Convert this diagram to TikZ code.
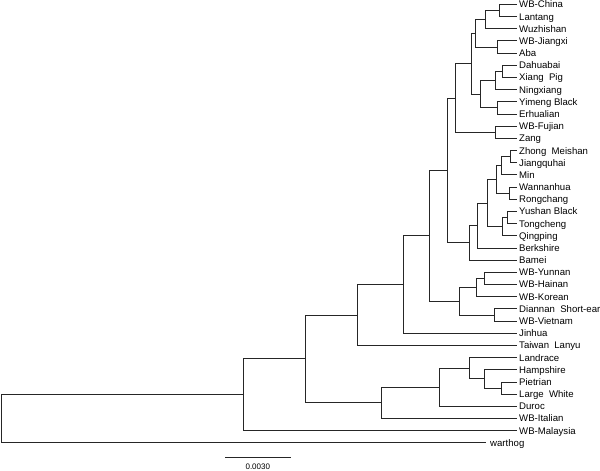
\documentclass[tikz,border=0pt]{standalone}
\usepackage{fontspec}
\setmainfont{Liberation Sans}
\begin{document}
\begin{tikzpicture}[x=1pt,y=-1pt,
  branch/.style={draw=black!85,line width=0.8pt},
  leaf/.style={anchor=west,inner xsep=2pt,inner ysep=0pt,font=\fontsize{9.6}{11}\selectfont,text height=7.4pt,text depth=0.4pt},
  scalelbl/.style={inner sep=0pt,font=\fontsize{8}{10}\selectfont}]
\useasboundingbox (0,0) rectangle (600,471);
% leaves
\node[leaf] (l0) at (517,4.3) {WB-China};
\node[leaf] (l1) at (517,16.5) {Lantang};
\node[leaf] (l2) at (517,28.7) {Wuzhishan};
\node[leaf] (l3) at (517,40.8) {WB-Jiangxi};
\node[leaf] (l4) at (517,53.0) {Aba};
\node[leaf] (l5) at (517,65.2) {Dahuabai};
\node[leaf] (l6) at (517,77.4) {Xiang~ Pig};
\node[leaf] (l7) at (517,89.6) {Ningxiang};
\node[leaf] (l8) at (517,101.7) {Yimeng Black};
\node[leaf] (l9) at (517,113.9) {Erhualian};
\node[leaf] (l10) at (517,126.1) {WB-Fujian};
\node[leaf] (l11) at (517,138.3) {Zang};
\node[leaf] (l12) at (517,150.5) {Zhong~ Meishan};
\node[leaf] (l13) at (517,162.6) {Jiangquhai};
\node[leaf] (l14) at (517,174.8) {Min};
\node[leaf] (l15) at (517,187.0) {Wannanhua};
\node[leaf] (l16) at (517,199.2) {Rongchang};
\node[leaf] (l17) at (517,211.4) {Yushan Black};
\node[leaf] (l18) at (517,223.5) {Tongcheng};
\node[leaf] (l19) at (517,235.7) {Qingping};
\node[leaf] (l20) at (517,247.9) {Berkshire};
\node[leaf] (l21) at (517,260.1) {Bamei};
\node[leaf] (l22) at (517,272.3) {WB-Yunnan};
\node[leaf] (l23) at (517,284.4) {WB-Hainan};
\node[leaf] (l24) at (517,296.6) {WB-Korean};
\node[leaf] (l25) at (517,308.8) {Diannan~ Short-ear};
\node[leaf] (l26) at (517,321.0) {WB-Vietnam};
\node[leaf] (l27) at (517,333.2) {Jinhua};
\node[leaf] (l28) at (517,345.3) {Taiwan~ Lanyu};
\node[leaf] (l29) at (517,357.5) {Landrace};
\node[leaf] (l30) at (517,369.7) {Hampshire};
\node[leaf] (l31) at (517,381.9) {Pietrian};
\node[leaf] (l32) at (517,394.1) {Large~ White};
\node[leaf] (l33) at (517,406.2) {Duroc};
\node[leaf] (l34) at (517,418.4) {WB-Italian};
\node[leaf] (l35) at (517,430.6) {WB-Malaysia};
\node[leaf,inner xsep=4pt] (l36) at (486,442.8) {warthog};
% internal nodes
\coordinate (n1) at (499,10.4);
\coordinate (n2) at (485.7,19.55);
\coordinate (n3) at (497.7,46.9);
\coordinate (n4) at (475.7,33.2);
\coordinate (n5) at (502.3,71.3);
\coordinate (n6) at (495.7,80.45);
\coordinate (n7) at (497.7,107.8);
\coordinate (n8) at (480,94.1);
\coordinate (n9) at (471,63.65);
\coordinate (n10) at (495.7,132.2);
\coordinate (n11) at (455,97.9);
\coordinate (n12) at (510.7,156.55);
\coordinate (n13) at (501,165.7);
\coordinate (n14) at (509.3,193.1);
\coordinate (n15) at (496,179.4);
\coordinate (n16) at (507.3,217.45);
\coordinate (n17) at (502.7,226.6);
\coordinate (n18) at (487.7,203);
\coordinate (n19) at (477.7,225.45);
\coordinate (n20) at (469.3,242.8);
\coordinate (n21) at (447.7,170.35);
\coordinate (n22) at (484,278.35);
\coordinate (n23) at (476.7,287.5);
\coordinate (n24) at (494.3,314.9);
\coordinate (n25) at (459,301.2);
\coordinate (n26) at (429.3,235.8);
\coordinate (n27) at (403.3,284.5);
\coordinate (n28) at (357.3,314.9);
\coordinate (n29) at (501,388);
\coordinate (n30) at (484,378.85);
\coordinate (n31) at (469.3,368.2);
\coordinate (n32) at (439.3,387.2);
\coordinate (n33) at (381.7,402.8);
\coordinate (n34) at (305.7,358.85);
\coordinate (n35) at (243.3,394.7);
\coordinate (root) at (1.5,418.8);
% branches
\draw[branch] (n1) |- (l0.west) (n1) |- (l1.west);
\draw[branch] (n2) |- (n1) (n2) |- (l2.west);
\draw[branch] (n3) |- (l3.west) (n3) |- (l4.west);
\draw[branch] (n4) |- (n2) (n4) |- (n3);
\draw[branch] (n5) |- (l5.west) (n5) |- (l6.west);
\draw[branch] (n6) |- (n5) (n6) |- (l7.west);
\draw[branch] (n7) |- (l8.west) (n7) |- (l9.west);
\draw[branch] (n8) |- (n6) (n8) |- (n7);
\draw[branch] (n9) |- (n4) (n9) |- (n8);
\draw[branch] (n10) |- (l10.west) (n10) |- (l11.west);
\draw[branch] (n11) |- (n9) (n11) |- (n10);
\draw[branch] (n12) |- (l12.west) (n12) |- (l13.west);
\draw[branch] (n13) |- (n12) (n13) |- (l14.west);
\draw[branch] (n14) |- (l15.west) (n14) |- (l16.west);
\draw[branch] (n15) |- (n13) (n15) |- (n14);
\draw[branch] (n16) |- (l17.west) (n16) |- (l18.west);
\draw[branch] (n17) |- (n16) (n17) |- (l19.west);
\draw[branch] (n18) |- (n15) (n18) |- (n17);
\draw[branch] (n19) |- (n18) (n19) |- (l20.west);
\draw[branch] (n20) |- (n19) (n20) |- (l21.west);
\draw[branch] (n21) |- (n11) (n21) |- (n20);
\draw[branch] (n22) |- (l22.west) (n22) |- (l23.west);
\draw[branch] (n23) |- (n22) (n23) |- (l24.west);
\draw[branch] (n24) |- (l25.west) (n24) |- (l26.west);
\draw[branch] (n25) |- (n23) (n25) |- (n24);
\draw[branch] (n26) |- (n21) (n26) |- (n25);
\draw[branch] (n27) |- (n26) (n27) |- (l27.west);
\draw[branch] (n28) |- (n27) (n28) |- (l28.west);
\draw[branch] (n29) |- (l31.west) (n29) |- (l32.west);
\draw[branch] (n30) |- (l30.west) (n30) |- (n29);
\draw[branch] (n31) |- (l29.west) (n31) |- (n30);
\draw[branch] (n32) |- (n31) (n32) |- (l33.west);
\draw[branch] (n33) |- (n32) (n33) |- (l34.west);
\draw[branch] (n34) |- (n28) (n34) |- (n33);
\draw[branch] (n35) |- (n34) (n35) |- (l35.west);
\draw[branch] (root) |- (n35) (root) |- (l36.west);
% scale bar
\coordinate (sb1) at (225,457);
\coordinate (sb2) at (290.7,457);
\draw[branch] (sb1) -- (sb2);
\node[scalelbl] (sbl) at (257.8,467) {0.0030};
\end{tikzpicture}
\end{document}
